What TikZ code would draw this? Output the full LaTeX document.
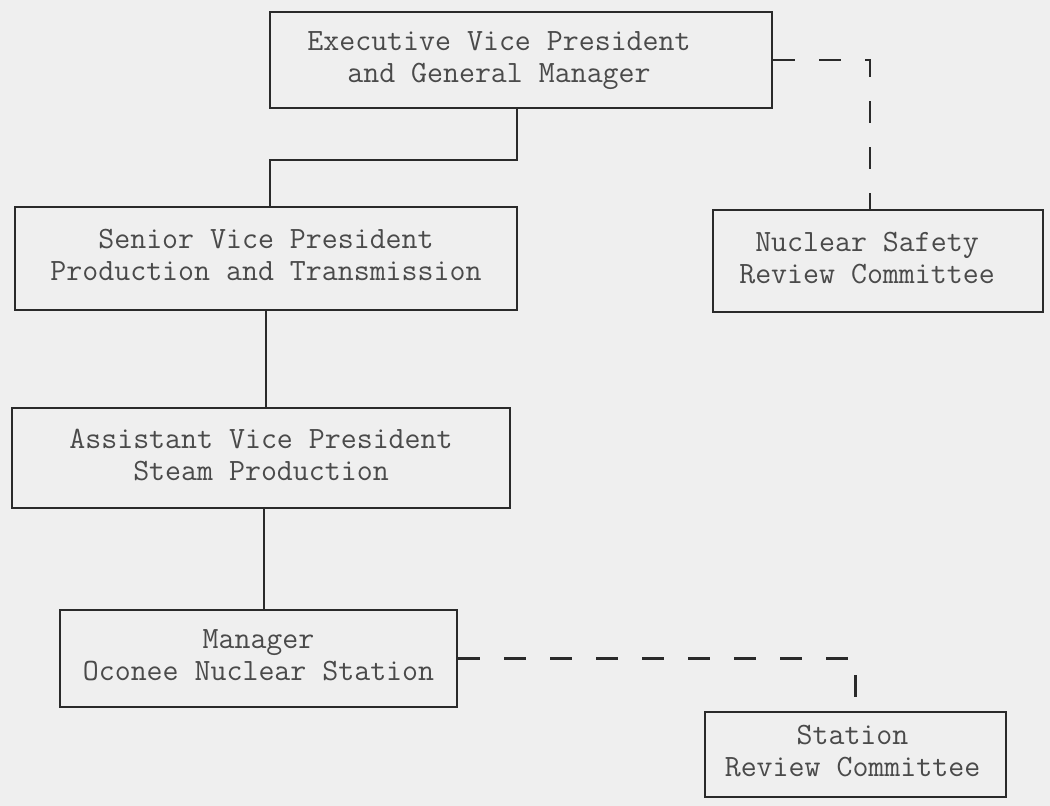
\documentclass[tikz,border=0pt]{standalone}
\usepackage{fontspec}
\begin{document}
\begin{tikzpicture}[x=1pt,y=-1pt,
  orgbox/.style={draw=ink,line width=2.6pt,inner sep=0pt,anchor=center,
    font=\ttfamily\fontsize{31}{32}\selectfont,text=ink!85},
  solidlink/.style={draw=ink,line width=2pt},
  dashlink/.style={draw=ink,line width=2.4pt,dash pattern=on 22pt off 24pt}]
\definecolor{ink}{HTML}{2A2A2A}
\definecolor{paper}{HTML}{EFEFEF}
\fill[paper] (0,0) rectangle (1050,806);
\useasboundingbox (0,0) rectangle (1050,806);
\node[orgbox,minimum width=502pt,minimum height=96pt] (exec) at (521,60)
  {\hspace*{-44pt}\begin{tabular}{@{}c@{}}Executive Vice President\\and General Manager\end{tabular}};
\node[orgbox,minimum width=502pt,minimum height=103pt] (senior) at (266,258.5)
  {\begin{tabular}{@{}c@{}}Senior Vice President\\Production and Transmission\end{tabular}};
\node[orgbox,minimum width=330pt,minimum height=102pt] (nuclear) at (878,261)
  {\hspace*{-22pt}\begin{tabular}{@{}c@{}}Nuclear Safety\\Review Committee\end{tabular}};
\node[orgbox,minimum width=498pt,minimum height=100pt] (asst) at (261,458)
  {\begin{tabular}{@{}c@{}}Assistant Vice President\\Steam Production\end{tabular}};
\node[orgbox,minimum width=397pt,minimum height=97pt] (manager) at (258.5,658.5)
  {\begin{tabular}{@{}c@{}}Manager\\Oconee Nuclear Station\end{tabular}};
\node[orgbox,minimum width=301pt,minimum height=85pt] (station) at (855.5,754.5)
  {\hspace*{-6pt}\begin{tabular}{@{}c@{}}Station\\Review Committee\end{tabular}};
\draw[solidlink] ([xshift=-4pt]exec.south) -- ++(0,51) -| ([xshift=4pt]senior.north);
\draw[solidlink] (senior.south) -- (senior.south |- asst.north);
\draw[solidlink] ([xshift=3pt]asst.south) -- ([xshift=3pt]asst.south |- manager.north);
\draw[dashlink] (exec.east) -| ([xshift=-8pt]nuclear.north);
\draw[dashlink] (manager.east) -| (station.north);
\end{tikzpicture}
\end{document}
